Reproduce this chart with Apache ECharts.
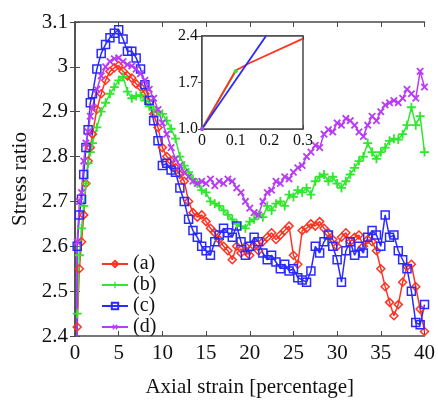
<!DOCTYPE html>
<html>
<head>
<meta charset="utf-8">
<script src="https://cdn.jsdelivr.net/npm/echarts@6/dist/echarts.min.js"></script>
<style>html,body{margin:0;padding:0;background:#fff;}#c{width:438px;height:403px;}</style>
</head>
<body>
<div id="c"></div>
<script>
const strain = [0,0.25,0.5,0.75,1,1.25,1.5,1.75,2,2.5,3,3.5,4,4.5,5,5.5,6,6.5,7,7.5,8,8.5,9,9.5,10,10.5,11,11.5,12,12.5,13,13.5,14,14.5,15,15.5,16,16.5,17,17.5,18,18.5,19,19.5,20,20.5,21,21.5,22,22.5,23,23.5,24,24.5,25,25.5,26,26.5,27,27.5,28,28.5,29,29.5,30,30.5,31,31.5,32,32.5,33,33.5,34,34.5,35,35.5,36,36.5,37,37.5,38,38.5,39,39.5,40];

const seriesA = [1.0,2.42,2.55,2.61,2.67,2.74,2.79,2.82,2.85,2.905,2.94,2.97,2.99,2.998,3.003,2.99,2.98,2.975,2.962,2.955,2.94,2.92,2.895,2.865,2.82,2.80,2.79,2.775,2.76,2.745,2.70,2.675,2.665,2.67,2.655,2.64,2.63,2.615,2.60,2.59,2.57,2.60,2.585,2.60,2.58,2.60,2.59,2.61,2.62,2.63,2.615,2.625,2.635,2.645,2.58,2.56,2.635,2.64,2.65,2.645,2.655,2.64,2.63,2.615,2.60,2.62,2.63,2.61,2.62,2.625,2.60,2.615,2.61,2.59,2.55,2.51,2.475,2.445,2.47,2.52,2.555,2.56,2.51,2.46,2.41];

const seriesB = [1.0,2.45,2.58,2.64,2.69,2.74,2.785,2.81,2.83,2.865,2.90,2.92,2.94,2.955,2.97,2.978,2.945,2.93,2.935,2.937,2.925,2.912,2.905,2.90,2.895,2.88,2.862,2.84,2.80,2.78,2.765,2.75,2.74,2.725,2.72,2.70,2.695,2.69,2.68,2.67,2.66,2.65,2.645,2.64,2.655,2.66,2.67,2.665,2.69,2.68,2.695,2.70,2.69,2.715,2.71,2.725,2.72,2.73,2.715,2.745,2.755,2.76,2.745,2.755,2.74,2.73,2.745,2.76,2.775,2.79,2.80,2.83,2.81,2.795,2.81,2.82,2.835,2.84,2.838,2.85,2.87,2.91,2.87,2.89,2.81];

const seriesC = [1.0,2.60,2.67,2.705,2.76,2.82,2.86,2.92,2.94,2.995,3.03,3.05,3.065,3.075,3.083,3.062,3.035,3.035,3.02,2.995,2.96,2.925,2.88,2.835,2.78,2.785,2.77,2.765,2.73,2.70,2.66,2.635,2.62,2.60,2.59,2.58,2.61,2.625,2.64,2.63,2.62,2.645,2.61,2.58,2.60,2.62,2.61,2.585,2.57,2.58,2.565,2.55,2.56,2.545,2.55,2.53,2.525,2.52,2.545,2.60,2.585,2.61,2.625,2.60,2.57,2.52,2.59,2.61,2.58,2.60,2.585,2.62,2.635,2.625,2.60,2.67,2.62,2.625,2.59,2.57,2.55,2.50,2.43,2.425,2.47];

const seriesD = [1.0,2.61,2.70,2.72,2.79,2.83,2.855,2.89,2.91,2.95,2.98,3.00,3.012,3.018,3.02,3.012,3.005,3.002,2.995,2.985,2.97,2.95,2.93,2.905,2.875,2.85,2.82,2.795,2.78,2.765,2.755,2.745,2.74,2.745,2.74,2.75,2.735,2.745,2.74,2.75,2.745,2.73,2.72,2.70,2.685,2.675,2.67,2.70,2.72,2.725,2.745,2.74,2.755,2.75,2.765,2.775,2.78,2.80,2.81,2.825,2.82,2.85,2.86,2.855,2.875,2.87,2.885,2.88,2.87,2.855,2.845,2.87,2.89,2.88,2.90,2.915,2.92,2.925,2.92,2.93,2.95,2.94,2.93,2.99,2.955];

const legendNames = ['(a)','(b)','(c)','(d)'];
const xTicks = [0,5,10,15,20,25,30,35,40];
const yTicks = [2.4,2.5,2.6,2.7,2.8,2.9,3.0,3.1];

// inset data
const insetStrainA = [0,0.1,0.14,0.3];
const insetA = [1.0,1.88,1.99,2.36];
const insetStrainB = [0,0.1];
const insetB = [1.0,1.87];
const insetStrainC = [0,0.19];
const insetC = [1.0,2.4];
const insetStrainD = [0];
const insetD = [1.0];
const insetXTicks = [0,0.1,0.2,0.3];
const insetYTicks = [1.0,1.7,2.4];

const colors = ['#ff3322','#2ee82e','#2a2aff','#b83cf5'];
const FONT = '"Liberation Serif", "DejaVu Serif", serif';
const pair = (xs, ys) => xs.map((x,i)=>[x, ys[i]]);

const plusPath = 'path://M4,0H6V4H10V6H6V10H4V6H0V4H4Z';

const axisLineStyle = {color:'#4a4a4a', width:1.5};
const chart = echarts.init(document.getElementById('c'), null, {renderer:'canvas'});

function mainSeries(name, data, color, symbol, size, hollow, rotate){
  return {
    name, type:'line', xAxisIndex:0, yAxisIndex:0,
    data: pair(strain, data),
    symbol, symbolSize:size, symbolRotate: rotate||0, showSymbol:true,
    lineStyle:{color, width:1.5},
    itemStyle: hollow ? {color:'rgba(255,255,255,0)', borderColor:color, borderWidth:1.5}
                      : {color, borderColor:color, borderWidth:0},
    emphasis:{disabled:true}, clip:true, z:3
  };
}
function insetSeries(name, xs, ys, color, showSym){
  return {
    name: name+'-inset', type:'line', xAxisIndex:3, yAxisIndex:3,
    data: pair(xs, ys), symbol:'circle', symbolSize:4, showSymbol:showSym,
    lineStyle:{color, width:1.8}, itemStyle:{color},
    emphasis:{disabled:true}, clip:true, z:6
  };
}

const option = {
  animation:false,
  backgroundColor:'#fff',
  textStyle:{fontFamily:FONT},
  grid:[
    {left:75, top:22, right:9, bottom:60},
    {left:202, top:36, width:101, height:93, show:true, backgroundColor:'#fff', borderColor:'#4a4a4a', borderWidth:1.5, z:5}
  ],
  legend:{
    data:legendNames, orient:'vertical', left:96, top:249, itemWidth:26, itemHeight:8, itemGap:1,
    textStyle:{fontFamily:FONT, fontSize:20, color:'#111', lineHeight:20}
  },
  xAxis:[
    {gridIndex:0, type:'value', min:0, max:40, interval:5, position:'bottom',
     axisLine:{show:true, lineStyle:axisLineStyle}, axisTick:{inside:true, length:5, lineStyle:{color:'#4a4a4a'}},
     splitLine:{show:false},
     axisLabel:{fontFamily:FONT, fontSize:21, color:'#111', margin:7, formatter:v=>xTicks.includes(v)?String(v):''},
     name:'Axial strain [percentage]', nameLocation:'middle', nameGap:41,
     nameTextStyle:{fontFamily:FONT, fontSize:21, color:'#111'}},
    {gridIndex:0, type:'value', min:0, max:40, interval:5, position:'top',
     axisLine:{show:true, lineStyle:axisLineStyle}, axisTick:{inside:true, length:5, lineStyle:{color:'#4a4a4a'}},
     axisLabel:{show:false}, splitLine:{show:false}},
    {gridIndex:1, type:'value', min:0, max:0.3, interval:0.1, position:'top',
     axisLine:{show:true, lineStyle:axisLineStyle}, axisTick:{inside:true, length:4, lineStyle:{color:'#4a4a4a'}},
     axisLabel:{show:false}, splitLine:{show:false}},
    {gridIndex:1, type:'value', min:0, max:0.3, interval:0.1, position:'bottom',
     axisLine:{show:true, lineStyle:axisLineStyle}, axisTick:{inside:true, length:4, lineStyle:{color:'#4a4a4a'}},
     minorTick:{show:true, splitNumber:5, length:2, lineStyle:{color:'#777'}},
     splitLine:{show:false},
     axisLabel:{fontFamily:FONT, fontSize:16, color:'#111', margin:4,
       formatter:v=>{const t=insetXTicks.find(k=>Math.abs(k-v)<1e-9); return t===undefined?'':(t===0?'0':t.toFixed(1));}}}
  ],
  yAxis:[
    {gridIndex:0, type:'value', min:2.4, max:3.1, interval:0.1, position:'left',
     axisLine:{show:true, lineStyle:axisLineStyle}, axisTick:{inside:true, length:5, lineStyle:{color:'#4a4a4a'}},
     splitLine:{show:false},
     axisLabel:{fontFamily:FONT, fontSize:21, color:'#111', margin:7,
       formatter:v=>{const t=yTicks.find(k=>Math.abs(k-v)<1e-9); return t===undefined?'':String(+t.toFixed(1));}},
     name:'Stress ratio', nameLocation:'middle', nameGap:38, nameRotate:90,
     nameTextStyle:{fontFamily:FONT, fontSize:21, color:'#111'}},
    {gridIndex:0, type:'value', min:2.4, max:3.1, interval:0.1, position:'right',
     axisLine:{show:true, lineStyle:axisLineStyle}, axisTick:{inside:true, length:5, lineStyle:{color:'#4a4a4a'}},
     axisLabel:{show:false}, splitLine:{show:false}},
    {gridIndex:1, type:'value', min:1.0, max:2.4, interval:0.7, position:'right',
     axisLine:{show:true, lineStyle:axisLineStyle}, axisTick:{inside:true, length:4, lineStyle:{color:'#4a4a4a'}},
     axisLabel:{show:false}, splitLine:{show:false}},
    {gridIndex:1, type:'value', min:1.0, max:2.4, interval:0.7, position:'left',
     axisLine:{show:true, lineStyle:axisLineStyle}, axisTick:{inside:true, length:4, lineStyle:{color:'#4a4a4a'}},
     minorTick:{show:true, splitNumber:7, length:2, lineStyle:{color:'#777'}},
     splitLine:{show:false},
     axisLabel:{fontFamily:FONT, fontSize:16, color:'#111', margin:4,
       formatter:v=>{const t=insetYTicks.find(k=>Math.abs(k-v)<1e-9); return t===undefined?'':t.toFixed(1);}}}
  ],
  series:[
    mainSeries(legendNames[0], seriesA, colors[0], 'diamond', 8, true),
    mainSeries(legendNames[1], seriesB, colors[1], plusPath, 9, false),
    mainSeries(legendNames[2], seriesC, colors[2], 'rect', 8, true),
    mainSeries(legendNames[3], seriesD, colors[3], plusPath, 9, false, 45),
    insetSeries('b', insetStrainB, insetB, colors[1], true),
    insetSeries('a', insetStrainA, insetA, colors[0], false),
    insetSeries('c', insetStrainC, insetC, colors[2], false),
    insetSeries('d', insetStrainD, insetD, colors[3], true)
  ]
};
chart.setOption(option);
</script>
</body>
</html>
